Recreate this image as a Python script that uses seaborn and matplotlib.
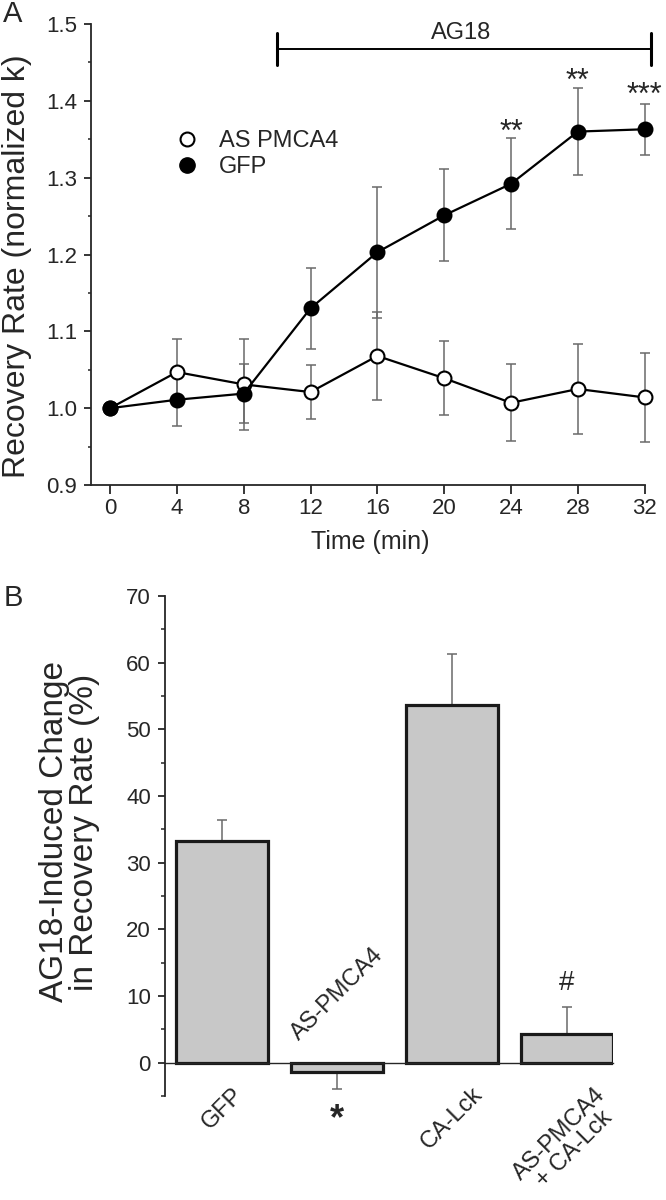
import numpy as np
import pandas as pd
import matplotlib
matplotlib.use('Agg')
import matplotlib.pyplot as plt
from matplotlib.lines import Line2D
from matplotlib.ticker import MultipleLocator, FormatStrFormatter
import seaborn as sns

# panel A data
time_min = [0, 4, 8, 12, 16, 20, 24, 28, 32]
as_pmca4 = [1.0, 1.047, 1.031, 1.021, 1.068, 1.039, 1.007, 1.025, 1.014]
as_pmca4_err = [0, 0.043, 0.059, 0.035, 0.057, 0.048, 0.050, 0.059, 0.058]
gfp = [1.0, 1.011, 1.019, 1.130, 1.203, 1.251, 1.292, 1.360, 1.363]
gfp_err = [0, 0.034, 0.038, 0.053, 0.085, 0.060, 0.059, 0.057, 0.033]
stars_time = [24, 28, 32]
stars_y = [1.371, 1.437, 1.418]
stars_txt = ['**', '**', '***']

# panel B data
groups = ['GFP', 'AS-PMCA4', 'CA-Lck', 'AS-PMCA4\n+ CA-Lck']
change = [33.2, -1.35, 53.7, 4.3]
change_err = [3.2, 2.6, 7.6, 4.0]

sns.set_style('ticks')
plt.rcParams['font.family'] = ['Liberation Sans', 'DejaVu Sans']
plt.rcParams['axes.linewidth'] = 1.3

fig = plt.figure(figsize=(6.66, 12), dpi=100)

# ---------------- A ----------------
axA = fig.add_axes([0.1366, 0.5958, 0.8314, 0.3842])
err_col = '#6a6a6a'
axA.errorbar(time_min, as_pmca4, yerr=as_pmca4_err, fmt='none', ecolor=err_col,
             elinewidth=1.1, capsize=3.5, capthick=1.1, zorder=2, clip_on=False)
axA.errorbar(time_min, gfp, yerr=gfp_err, fmt='none', ecolor=err_col,
             elinewidth=1.1, capsize=3.5, capthick=1.1, zorder=2, clip_on=False)

dfA = pd.DataFrame({'time': time_min * 2,
                    'rate': as_pmca4 + gfp,
                    'group': ['AS PMCA4'] * 9 + ['GFP'] * 9})
sns.lineplot(data=dfA[dfA.group == 'AS PMCA4'], x='time', y='rate', color='black',
             lw=1.6, marker='o', markersize=10, markerfacecolor='white',
             markeredgecolor='black', markeredgewidth=1.5, ax=axA, zorder=3)
sns.lineplot(data=dfA[dfA.group == 'GFP'], x='time', y='rate', color='black',
             lw=1.6, marker='o', markersize=10, markerfacecolor='black',
             markeredgecolor='black', markeredgewidth=1.5, ax=axA, zorder=4)
for ln in axA.lines:
    ln.set_clip_on(False)

axA.set_xlim(-1.14, 32)
axA.set_ylim(0.9, 1.5)
axA.set_xticks(time_min)
axA.yaxis.set_major_locator(MultipleLocator(0.1))
axA.yaxis.set_minor_locator(MultipleLocator(0.05))
axA.yaxis.set_major_formatter(FormatStrFormatter('%.1f'))
axA.tick_params(axis='both', labelsize=16, width=1.3, direction='out')
axA.tick_params(axis='x', length=6.5, pad=3)
axA.tick_params(axis='y', which='major', length=5, pad=5)
axA.tick_params(axis='y', which='minor', length=2.5, width=1.1)
sns.despine(ax=axA)

axA.set_xlabel('Time (min)', fontsize=18)
axA.xaxis.set_label_coords(0.504, -0.098)
axA.set_ylabel('Recovery Rate (normalized k)', fontsize=23)
axA.yaxis.set_label_coords(-0.107, 0.475)

# AG18 bar
axA.plot([10, 32.4], [1.467, 1.467], color='black', lw=1.4, clip_on=False)
axA.plot([10, 10], [1.447, 1.488], color='black', lw=2.2, clip_on=False)
axA.plot([32.4, 32.4], [1.447, 1.488], color='black', lw=2.2, clip_on=False)
axA.text(21.0, 1.488, 'AG18', fontsize=17, ha='center', va='center')

for t, yv, s in zip(stars_time, stars_y, stars_txt):
    axA.annotate(s, (t, yv), xytext=(0, -12.5), textcoords='offset points',
                 ha='center', va='baseline', fontsize=22, annotation_clip=False)

handles = [Line2D([], [], ls='none', marker='o', markersize=10, markerfacecolor='white',
                  markeredgecolor='black', markeredgewidth=1.5),
           Line2D([], [], ls='none', marker='o', markersize=11, markerfacecolor='black',
                  markeredgecolor='black')]
axA.legend(handles, ['AS PMCA4', 'GFP'], loc='upper left', bbox_to_anchor=(0.1515, 0.770),
           frameon=False, fontsize=17, handlelength=1.0, handletextpad=0.85,
           labelspacing=0.18, borderpad=0, borderaxespad=0)

fig.text(0.005, 0.988, 'A', fontsize=21, ha='left', va='center')

# ---------------- B ----------------
axB = fig.add_axes([0.2474, 0.0867, 0.6727, 0.4167])
dfB = pd.DataFrame({'group': groups, 'change': change})
sns.barplot(data=dfB, x='group', y='change', color='#c8c8c8', saturation=1,
            edgecolor='#1a1a1a', linewidth=2.3, width=0.8, ax=axB, zorder=2)
lower = [0 if v > 0 else e for v, e in zip(change, change_err)]
upper = [e if v > 0 else 0 for v, e in zip(change, change_err)]
axB.errorbar(range(len(groups)), change, yerr=[lower, upper], fmt='none',
             ecolor=err_col, elinewidth=1.1, capsize=3.5, capthick=1.1, zorder=1)

axB.set_xlim(-0.5, 3.4)
axB.set_ylim(-5, 70)
axB.yaxis.set_major_locator(MultipleLocator(10))
axB.yaxis.set_minor_locator(MultipleLocator(5))
axB.spines['bottom'].set_position(('data', 0))
axB.spines['bottom'].set_linewidth(1.0)
sns.despine(ax=axB)
axB.tick_params(axis='x', length=0, pad=15)
axB.tick_params(axis='y', which='major', length=5, width=1.3, labelsize=16, pad=5)
axB.tick_params(axis='y', which='minor', length=3, width=1.1)
axB.set_xticks(range(len(groups)))
axB.set_xticklabels(['GFP', '', 'CA-Lck', 'AS-PMCA4\n+ CA-Lck'], rotation=45,
                    ha='center', va='top', fontsize=17, linespacing=1.0)
axB.set_xlabel('')
axB.set_ylabel('AG18-Induced Change\nin Recovery Rate (%)', fontsize=24, linespacing=0.95)
axB.yaxis.set_label_coords(-0.145, 0.528)

axB.text(1, 10.2, groups[1], rotation=45, ha='center', va='center', fontsize=17)
axB.text(1, -8.6, '*', ha='center', va='center', fontsize=26, fontweight='bold')
axB.text(3, 11.9, '#', ha='center', va='center', fontsize=20)

fig.text(0.005, 0.502, 'B', fontsize=21, ha='left', va='center')

fig.savefig('out.png', dpi=100)
